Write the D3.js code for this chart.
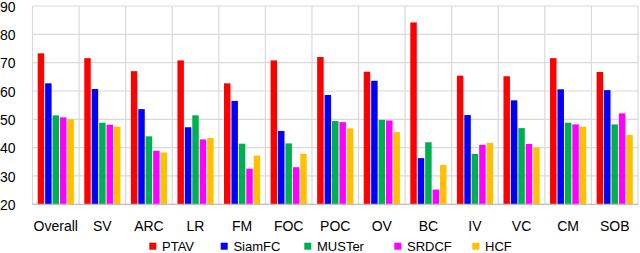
<!DOCTYPE html>
<html><head><meta charset="utf-8">
<script src="https://cdn.jsdelivr.net/npm/d3@7"></script>
<style>body{margin:0;background:#fff}svg{display:block}text{font-family:"Liberation Sans",Arial,sans-serif;fill:#000}</style>
</head><body><svg id="c" width="640" height="253"></svg>
<script>
const categories = ["Overall","SV","ARC","LR","FM","FOC","POC","OV","BC","IV","VC","CM","SOB"];
const seriesNames = ["PTAV","SiamFC","MUSTer","SRDCF","HCF"];
const PTAV   = [73.3,71.6,67.0,70.8,62.7,70.8,72.0,66.8,84.2,65.4,65.2,71.6,66.7];
const SiamFC = [62.7,60.7,53.6,47.2,56.5,45.9,58.6,63.6,36.3,51.5,56.7,60.6,60.3];
const MUSTer = [51.4,48.8,44.0,51.4,41.4,41.5,49.4,49.8,41.9,37.8,46.9,48.8,48.2];
const SRDCF  = [50.7,48.1,38.9,42.9,32.6,33.1,49.0,49.6,25.2,41.0,41.3,48.2,52.1];
const HCF    = [50.0,47.4,38.3,43.4,37.2,37.8,46.8,45.5,33.9,41.7,40.1,47.4,44.5];
const yTicks = [20,30,40,50,60,70,80,90];
const colors = ["#ff0000","#0000ff","#00b050","#ff00ff","#ffc000"];
const seriesValues = [PTAV,SiamFC,MUSTer,SRDCF,HCF];

const svg = d3.select("#c");
const L=32.5, R=638, T=6, B=204.3;
const x = d3.scaleBand().domain(categories).range([L,R]).paddingInner(0).paddingOuter(0);
const y = d3.scaleLinear().domain([20,90]).range([B,T]);
const xs = d3.scaleBand().domain(seriesNames).range([5.2, x.bandwidth()-5.2]).paddingInner(0.13);

// gridlines
const g = svg.append("g");
g.selectAll("line.h").data(yTicks).join("line")
  .attr("x1",L).attr("x2",R).attr("y1",d=>y(d)).attr("y2",d=>y(d))
  .attr("stroke","#d9d9d9").attr("stroke-width",1.2);
g.selectAll("line.v").data(categories.concat(["_end"])).join("line")
  .attr("x1",(d,i)=>L+i*x.bandwidth()).attr("x2",(d,i)=>L+i*x.bandwidth())
  .attr("y1",T).attr("y2",B).attr("stroke","#d9d9d9").attr("stroke-width",1.2);

// bars
const rows = [];
categories.forEach((c,ci)=>seriesNames.forEach((s,si)=>rows.push({c,s,si,v:seriesValues[si][ci]})));
svg.append("g").selectAll("rect").data(rows).join("rect")
  .attr("x",d=>x(d.c)+xs(d.s)).attr("width",xs.bandwidth())
  .attr("y",d=>y(d.v)).attr("height",d=>B-y(d.v))
  .attr("fill",d=>colors[d.si]);

// axis lines
svg.append("line").attr("x1",L).attr("x2",R).attr("y1",B).attr("y2",B).attr("stroke","#bfbfbf").attr("stroke-width",1.2);

// y labels
const yAxis = d3.axisLeft(y).tickValues(yTicks).tickSize(0).tickPadding(0);
const ya = svg.append("g").attr("transform",`translate(15.5,0.6)`).call(yAxis);
ya.select(".domain").remove();
ya.selectAll("text").attr("font-size",14).attr("font-family","Liberation Sans, Arial, sans-serif").attr("fill","#000");

// x labels
const xAxis = d3.axisBottom(x).tickSize(0).tickPadding(0);
const xa = svg.append("g").attr("transform",`translate(0,${B+22})`).call(xAxis);
xa.select(".domain").remove();
xa.selectAll("text").attr("font-size",14).attr("font-family","Liberation Sans, Arial, sans-serif").attr("fill","#000").attr("dy","0.35em").attr("y",0);

// legend
const legX = [149.3,220.7,304.3,394.3,472.3];
const lg = svg.append("g").selectAll("g").data(seriesNames).join("g")
  .attr("transform",(d,i)=>`translate(${legX[i]},242.7)`);
lg.append("rect").attr("width",7).attr("height",7).attr("fill",(d,i)=>colors[i]);
lg.append("text").attr("x",12.7).attr("y",3.5).attr("dy","0.35em").attr("font-size",13).text(d=>d);
</script></body></html>
